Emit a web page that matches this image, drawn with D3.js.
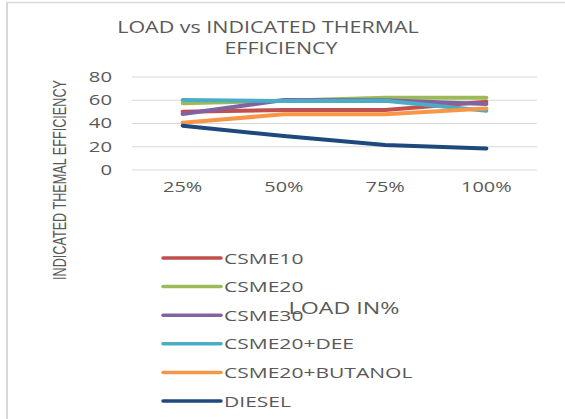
<!DOCTYPE html>
<html>
<head>
<meta charset="utf-8">
<script src="https://cdn.jsdelivr.net/npm/d3@7"></script>
<style>
  html, body { margin: 0; padding: 0; background: #fff; }
  svg { display: block; }
  text { font-family: "Open Sans", "Liberation Sans", sans-serif; fill: #595959; }
</style>
</head>
<body>
<svg id="chart" width="565" height="419"></svg>
<script>
// Load levels on the x axis
const loads = ["25%", "50%", "75%", "100%"];
// Y axis ticks
const yTicks = [0, 20, 40, 60, 80];

// Indicated thermal efficiency (%) per fuel blend
const csme10 = [50.2, 51.6, 51.6, 58.8];
const csme20 = [57.4, 59.6, 62.2, 62.2];
const csme30 = [48.2, 60.2, 60.0, 56.8];
const csme20Dee = [60.2, 59.4, 59.6, 51.0];
const csme20Butanol = [40.7, 47.9, 47.9, 53.0];
const diesel = [38.1, 29.2, 21.5, 18.6];

const seriesNames = ["CSME10", "CSME20", "CSME30", "CSME20+DEE", "CSME20+BUTANOL", "DIESEL"];
const seriesColors = ["#c0504d", "#9bbb59", "#8064a2", "#4bacc6", "#f79646", "#1f497d"];
const seriesValues = [csme10, csme20, csme30, csme20Dee, csme20Butanol, diesel];

const svg = d3.select("#chart");

// widen glyphs horizontally by a factor k
function stretch(sel, k) {
  sel.each(function () {
    const w = this.getComputedTextLength();
    d3.select(this).attr("textLength", w * k).attr("lengthAdjust", "spacingAndGlyphs");
  });
}

// chart frame (only top and left edges are visible)
svg.append("line").attr("x1", 7).attr("x2", 565).attr("y1", 2.5).attr("y2", 2.5)
  .attr("stroke", "#d9d9d9").attr("stroke-width", 1.5);
svg.append("line").attr("x1", 7).attr("x2", 7).attr("y1", 2).attr("y2", 419)
  .attr("stroke", "#d9d9d9").attr("stroke-width", 2);

// title
const title = svg.append("g");
title.append("text").attr("x", 268).attr("y", 33).attr("text-anchor", "middle")
  .style("font-size", "16.5px").text("LOAD vs INDICATED THERMAL");
title.append("text").attr("x", 281).attr("y", 54).attr("text-anchor", "middle")
  .style("font-size", "16.5px").text("EFFICIENCY");
stretch(title.selectAll("text"), 1.3);

const x = d3.scaleBand().domain(loads).range([132, 537]);
const y = d3.scaleLinear().domain([0, 80]).range([170, 77]);

// gridlines
svg.append("g").selectAll("line").data(yTicks).join("line")
  .attr("x1", 132).attr("x2", 537)
  .attr("y1", d => y(d)).attr("y2", d => y(d))
  .attr("stroke", "#d9d9d9").attr("stroke-width", 1);

// y axis labels
const yAxis = svg.append("g").attr("transform", "translate(132,0)")
  .call(d3.axisLeft(y).tickValues(yTicks).tickSize(0).tickPadding(20));
yAxis.select(".domain").remove();
yAxis.selectAll("text").style("font-size", "14px").attr("fill", "#595959")
  .style("font-family", "'Open Sans', 'Liberation Sans', sans-serif");
stretch(yAxis.selectAll("text"), 1.45);

// x axis labels
const xAxis = svg.append("g").attr("transform", "translate(0,170)")
  .call(d3.axisBottom(x).tickSize(0).tickPadding(12));
xAxis.select(".domain").remove();
xAxis.selectAll("text").style("font-size", "14px").attr("fill", "#595959")
  .style("font-family", "'Open Sans', 'Liberation Sans', sans-serif");
stretch(xAxis.selectAll("text"), 1.42);

// series lines
const line = d3.line()
  .x((d, i) => x(loads[i]) + x.bandwidth() / 2)
  .y(d => y(d));

svg.append("g").selectAll("path").data(seriesValues).join("path")
  .attr("d", d => line(d))
  .attr("fill", "none")
  .attr("stroke", (d, i) => seriesColors[i])
  .attr("stroke-width", 4)
  .attr("stroke-linejoin", "round")
  .attr("stroke-linecap", "round");

// y axis title (tall, condensed glyphs)
const yTitle = svg.append("text")
  .attr("text-anchor", "middle")
  .style("font-family", "'Liberation Sans', sans-serif")
  .style("font-size", "18px")
  .text("INDICATED THEMAL EFFICIENCY");
const yTitleLen = yTitle.node().getComputedTextLength();
yTitle.attr("transform", `translate(66,180) rotate(-90) scale(${200 / yTitleLen},1)`);

// legend
const legend = svg.append("g").selectAll("g").data(seriesNames).join("g")
  .attr("transform", (d, i) => `translate(0,${258 + i * 28.6})`);
legend.append("line").attr("x1", 163).attr("x2", 221).attr("y1", 0).attr("y2", 0)
  .attr("stroke", (d, i) => seriesColors[i]).attr("stroke-width", 3.5)
  .attr("stroke-linecap", "round");
const legendText = legend.append("text").attr("x", 224).attr("y", 5.5)
  .style("font-size", "14.5px").text(d => d);
stretch(legendText, 1.45);

// x axis title (overlaps the legend)
const xTitle = svg.append("text").attr("x", 344).attr("y", 314).attr("text-anchor", "middle")
  .style("font-size", "16px").text("LOAD IN%");
stretch(xTitle, 1.45);
</script>
</body>
</html>
